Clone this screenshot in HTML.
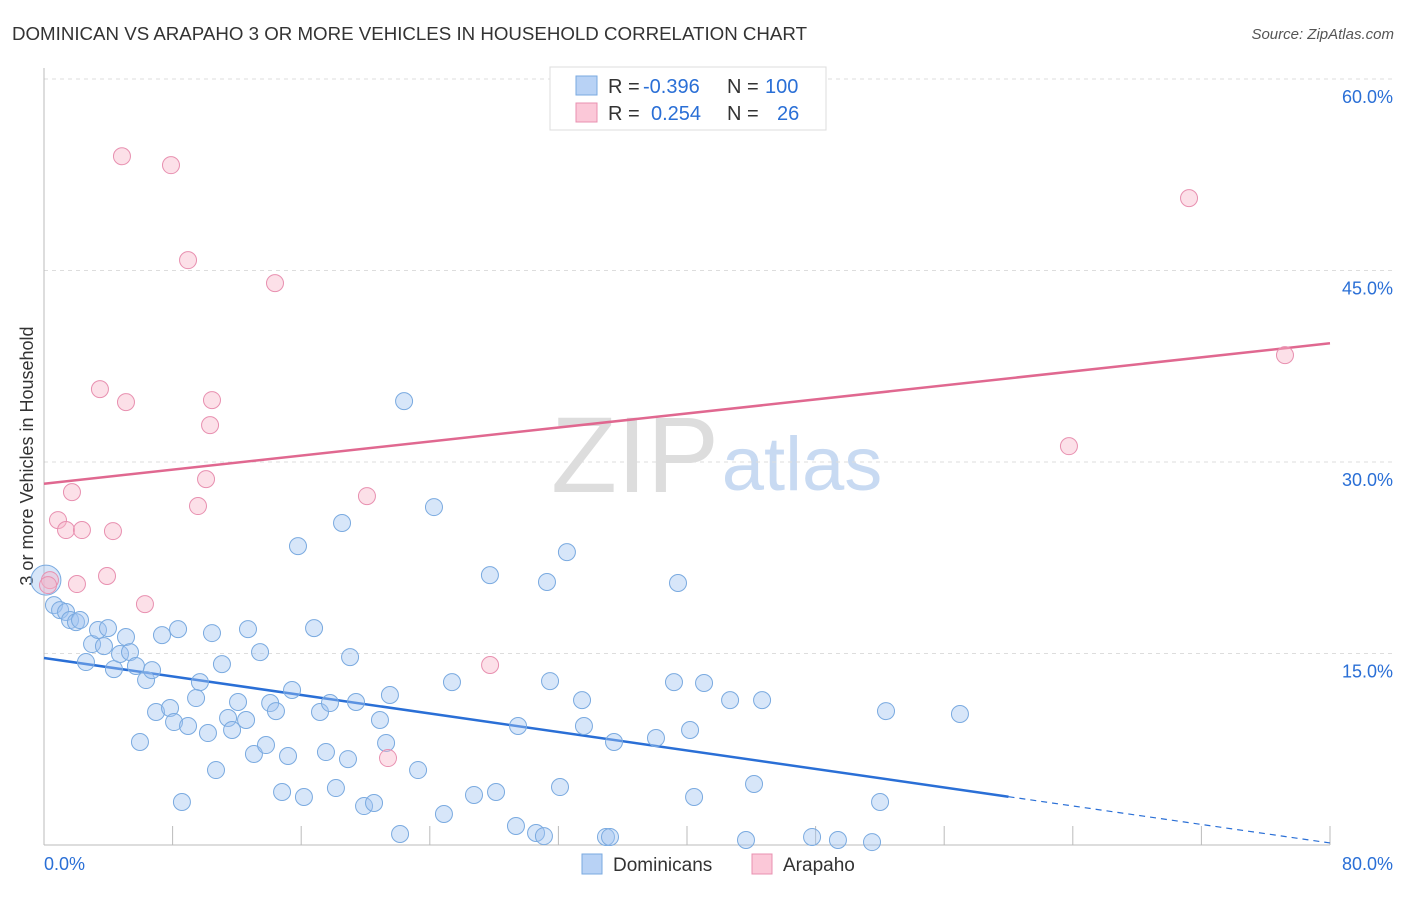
<!DOCTYPE html>
<html><head><meta charset="utf-8"><style>
body{margin:0;background:#fff;font-family:"Liberation Sans",sans-serif;}
svg text{font-family:"Liberation Sans",sans-serif;}
</style></head><body>
<svg id="chart" width="1406" height="892" xmlns="http://www.w3.org/2000/svg">
<text x="12" y="40" font-size="18" fill="#333" textLength="795" lengthAdjust="spacingAndGlyphs">DOMINICAN VS ARAPAHO 3 OR MORE VEHICLES IN HOUSEHOLD CORRELATION CHART</text>
<text x="1394" y="39" font-size="15" fill="#555" font-style="italic" text-anchor="end">Source: ZipAtlas.com</text>
<text transform="translate(33,456) rotate(-90)" font-size="18" fill="#333" text-anchor="middle">3 or more Vehicles in Household</text>
<g>
<text x="635" y="492" font-size="108" fill="#ddd" font-family="Liberation Serif" text-anchor="middle">ZIP</text>
<text x="802" y="490" font-size="76" fill="#c8daf2" text-anchor="middle">atlas</text>
</g>
<g id="grid"></g><g id="axes"></g><g id="trend"></g><g id="pts"></g>
<g>
<rect x="550" y="67" width="276" height="63" fill="#fff" stroke="#ddd"/>
<rect x="576" y="76" width="21" height="19" fill="#b8d2f5" stroke="#7aaae0"/>
<rect x="576" y="103" width="21" height="19" fill="#fbc8d8" stroke="#e890b0"/>
<text x="608" y="93" font-size="20" fill="#333">R =</text><text x="643" y="93" font-size="20" fill="#2a6fd6">-0.396</text>
<text x="727" y="93" font-size="20" fill="#333">N =</text><text x="765" y="93" font-size="20" fill="#2a6fd6">100</text>
<text x="608" y="120" font-size="20" fill="#333">R =</text><text x="651" y="120" font-size="20" fill="#2a6fd6">0.254</text>
<text x="727" y="120" font-size="20" fill="#333">N =</text><text x="777" y="120" font-size="20" fill="#2a6fd6">26</text>
</g>
<g>
<rect x="582" y="854" width="20" height="20" fill="#b8d2f5" stroke="#7aaae0"/>
<text x="613" y="871" font-size="19" fill="#333">Dominicans</text>
<rect x="752" y="854" width="20" height="20" fill="#fbc8d8" stroke="#e890b0"/>
<text x="783" y="871" font-size="19" fill="#333">Arapaho</text>
</g>
</svg>
<script>
const yTicks=[15,30,45,60];
const yTickLabels=["15.0%","30.0%","45.0%","60.0%"];
const xTickLabels=["0.0%","80.0%"];
const blueX=[0.12,0.62,1.0,1.37,1.62,1.99,2.24,2.99,3.36,3.73,3.98,2.61,4.35,4.73,5.10,5.35,5.72,6.35,6.72,7.34,8.34,10.45,12.69,13.44,11.07,9.70,9.46,6.97,7.84,8.09,8.96,10.20,11.45,11.70,12.07,12.57,14.07,14.43,15.43,16.80,15.80,18.54,19.04,19.41,17.17,17.79,21.52,20.90,21.28,5.97,10.70,13.06,13.81,15.18,17.54,18.91,8.58,14.81,16.17,18.16,19.91,20.53,22.15,23.27,24.88,26.75,28.12,29.36,30.61,31.10,32.10,34.96,35.21,29.49,31.48,33.47,33.59,35.46,38.07,40.19,39.19,41.06,42.68,44.67,25.38,22.40,24.26,27.74,31.29,32.53,39.44,40.44,44.17,43.67,47.78,49.39,51.51,52.01,52.38,56.98];
const blueY=[20.75,18.79,18.4,18.25,17.62,17.46,17.62,15.74,16.84,15.58,16.99,14.33,13.78,14.96,16.29,15.11,14.02,12.92,13.70,16.44,16.91,16.60,16.91,15.11,14.17,12.76,11.51,10.42,10.73,9.63,9.32,8.77,9.95,9.01,11.20,9.79,11.12,10.49,12.14,16.99,23.41,25.22,14.72,11.20,10.42,11.12,11.75,9.79,7.99,8.07,5.87,7.13,7.83,6.97,7.28,6.73,3.37,4.15,3.76,4.46,3.05,3.29,0.86,5.87,2.43,3.92,4.15,1.49,0.94,0.70,4.54,0.63,0.63,9.32,12.84,11.35,9.32,8.07,8.38,9.01,12.76,12.69,11.35,11.35,12.76,34.77,26.47,21.14,20.60,22.94,20.52,3.76,4.78,0.39,0.63,0.39,0.23,3.37,10.49,10.26];
const pinkX=[4.85,7.90,8.96,14.37,3.48,5.10,10.45,10.33,10.08,9.58,20.09,1.74,0.87,1.37,2.36,4.29,3.92,2.05,0.37,6.28,27.75,21.40,71.23,77.20,63.76,0.25];
const pinkY=[53.95,53.25,45.81,44.01,35.71,34.69,34.85,32.89,28.66,26.55,27.33,27.64,25.45,24.67,24.67,24.59,21.07,20.44,20.75,18.87,14.10,6.81,50.67,38.37,31.24,20.36];
const blueTrend=[14.65,0.16];
const pinkTrend=[28.3,39.3];
const NS="http://www.w3.org/2000/svg";
const X0=44,X1=1330,Y0=845,Y1=79;
const xs=v=>X0+(v/80)*(X1-X0);
const ys=v=>Y0-(v/60)*(Y0-Y1);
function mk(t,a,p){const e=document.createElementNS(NS,t);for(const k in a)e.setAttribute(k,a[k]);p.appendChild(e);return e;}
const grid=document.getElementById('grid'),axes=document.getElementById('axes');
yTicks.forEach((t,i)=>{
 const l=mk('line',{x1:X0,x2:1394,y1:ys(t),y2:ys(t),stroke:'#ddd','stroke-dasharray':'4,4'},grid);
 
 
 const tx=mk('text',{x:1393,y:ys(t)+24,'font-size':18,fill:'#2a6fd6','text-anchor':'end'},axes);
 tx.textContent=yTickLabels[i];
 
 
});
const ax=mk('line',{x1:X0,x2:X0,y1:68,y2:Y0,stroke:'#bbb'},axes);


const bx=mk('line',{x1:X0,x2:X1,y1:Y0,y2:Y0,stroke:'#bbb'},axes);


for(let v=8;v<=80;v+=8){const t=mk('line',{x1:xs(v),x2:xs(v),y1:826,y2:Y0,stroke:'#bbb'},axes);
 
 }
[[0,'start',44],[80,'end',1393]].forEach((d,i)=>{const t=mk('text',{x:d[2],y:870,'font-size':18,fill:'#2a6fd6','text-anchor':d[1]},axes);t.textContent=xTickLabels[i];
 
 });
const pts=document.getElementById('pts');
blueX.forEach((x,i)=>{const c=mk('circle',{cx:xs(x),cy:ys(blueY[i]),r:i==0?15:8.5,fill:'rgba(160,195,240,0.42)',stroke:'#7aaae0','stroke-width':1},pts);
 
 });
pinkX.forEach((x,i)=>{const c=mk('circle',{cx:xs(x),cy:ys(pinkY[i]),r:8.5,fill:'rgba(248,180,200,0.42)',stroke:'#e890b0','stroke-width':1},pts);
 
 });
const tr=document.getElementById('trend');
const bAt=v=>blueTrend[0]+(blueTrend[1]-blueTrend[0])*v/80;
const b1=mk('line',{x1:xs(0),y1:ys(bAt(0)),x2:xs(60),y2:ys(bAt(60)),stroke:'#2a6fd6','stroke-width':2.5},tr);


const b2=mk('line',{x1:xs(60),y1:ys(bAt(60)),x2:xs(80),y2:ys(bAt(80)),stroke:'#2a6fd6','stroke-width':1.2,'stroke-dasharray':'6,5'},tr);


const p1=mk('line',{x1:xs(0),y1:ys(pinkTrend[0]),x2:xs(80),y2:ys(pinkTrend[1]),stroke:'#e06890','stroke-width':2.5},tr);


</script>
</body></html>
